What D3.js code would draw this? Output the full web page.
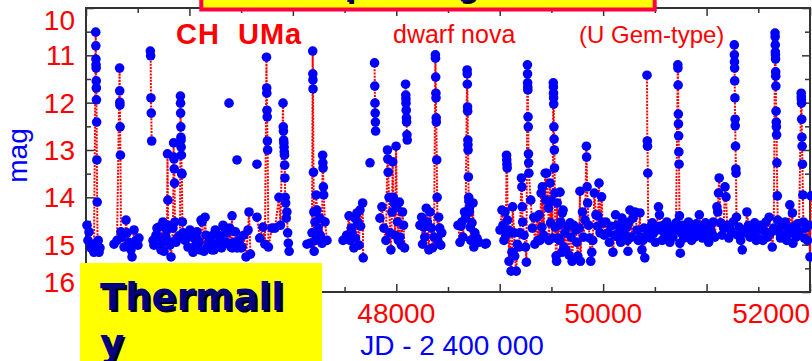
<!DOCTYPE html>
<html>
<head>
<meta charset="utf-8">
<script src="https://cdn.jsdelivr.net/npm/d3@7"></script>
<style>
  html, body { margin: 0; padding: 0; background: #ffffff; }
  svg { display: block; }
</style>
</head>
<body>
<svg id="chart" width="812" height="361"></svg>
<script>
// CH UMa light curve: [JD - 2400000, visual magnitude], one array per observing run.
const seasonA = [[45010,14.59],[45019,14.91],[45029,14.73],[45048,15.07],[45068,14.99],[45077,15.16],
  [45094,10.51],[45095,10.80],[45096,11.08],[45097,11.20],[45098,11.27],[45099,11.54],[45100,11.69],[45101,11.94],[45103,12.41],[45105,13.21],[45108,14.10],
  [45112,15.01],[45118,14.91],[45126,15.16],[45135,15.07]];

const seasonB = [[45271,14.99],[45300,14.91],
  [45325,11.27],[45326,11.75],[45327,11.99],[45328,12.05],[45330,12.51],[45333,13.11],[45338,14.73],
  [45348,14.84],[45368,15.05],[45387,14.48],[45397,14.75],[45416,14.95],[45435,15.11],[45445,15.26],[45454,14.99],[45464,14.69],[45483,14.91],[45502,15.01],[45512,14.86]];

const outburstA = [[45622,10.91],[45625,11.01],[45628,11.90],[45631,12.22],[45635,12.81]];

const seasonC = [[45648,14.91],[45657,15.01],[45677,14.80],[45686,14.65],[45706,14.63],[45715,14.84],[45725,15.11],[45735,14.95],[45744,14.52],[45754,15.14],[45773,14.84],[45783,14.69],
  [45788,13.08],[45792,14.06],[45795,14.59],
  [45812,15.01],[45822,15.26],[45831,14.95],[45841,14.65],
  [45847,12.85],[45849,13.15],[45851,13.19],[45853,13.40],[45856,13.70],[45860,14.52],
  [45870,14.95],[45880,14.86],[45909,14.80],
  [45913,11.86],[45914,12.01],[45915,12.22],[45917,12.51],[45918,12.73],[45919,12.79],[45920,12.94],[45922,13.11],[45925,13.49],[45927,13.51],[45932,14.52],
  [45938,14.75],[45957,14.91],[45967,14.86],[45986,15.05],[46005,14.69],[46025,14.84],[46035,15.16],[46044,14.84],[46060,15.01],[46073,14.73],[46083,14.91],[46093,14.95],[46102,15.11],
  [46112,14.48],[46122,14.52],[46141,15.14],[46151,14.42],[46160,14.80],[46175,15.05],[46189,14.95],[46209,14.91],[46218,15.11],[46228,14.80],[46238,15.11],[46250,14.69],
  [46267,15.01],[46286,14.80],[46296,14.86],[46310,15.07],[46325,14.59],[46335,14.63],[46350,14.95],[46364,14.75],[46373,14.97],[46390,14.65],[46402,15.05],[46412,14.39],
  [46415,15.07],[46431,14.95],[46445,14.73],[46460,15.07],[46480,14.91],[46499,15.07],[46509,15.05],[46525,14.80],[46547,15.26],[46567,14.69],[46576,14.31],[46590,15.20]];

const seasonD = [[46653,14.42],[46680,14.86],[46711,14.63],[46730,14.99],
  [46745,11.04],[46747,11.69],[46748,11.80],[46750,12.16],[46752,12.30],[46754,12.81],[46756,13.00],[46764,15.05],
  [46798,14.65],[46827,14.65],[46866,14.00],[46880,14.59],
  [46905,12.01],[46907,12.51],[46909,12.60],[46911,12.79],[46913,12.85],[46915,12.94],[46917,13.04],[46919,13.11],[46921,13.32],[46923,13.59],
  [46926,14.00],[46930,14.12],[46936,14.44],[46942,14.31],[46950,14.75],[46956,14.97],[46964,15.14]];

const seasonE = [[47137,14.99],[47166,14.97],[47185,14.75],
  [47192,10.91],[47193,11.39],[47194,11.52],[47195,11.71],[47199,13.47],[47203,14.31],
  [47206,15.14],[47214,14.52],[47220,14.91],[47225,13.95],[47233,14.27],[47243,14.65],[47262,14.44],[47265,14.80],[47282,14.97],
  [47288,13.11],[47290,13.27],[47292,13.38],[47295,13.78],[47298,13.95],
  [47311,14.52],[47330,14.91]];

const seasonF = [[47485,14.91],[47520,14.80],[47543,14.39],[47552,14.91],[47565,14.65],[47572,14.75],[47590,15.07],[47600,14.44],[47605,14.86],
  [47620,14.33],[47625,14.52],[47640,15.01],[47649,14.27],[47655,14.61],[47675,14.12],[47680,15.28]];

const outburstB = [[47790,11.16],[47792,11.65],[47794,12.01],[47796,12.22],[47798,12.41],[47800,12.60]];

const seasonG = [[47842,14.44],[47861,14.20],[47880,14.65],[47900,14.91],
  [47915,13.00],[47918,13.19],[47922,13.47],[47930,14.00],[47940,14.75],[47948,15.11],[47958,14.31],
  [47965,13.25],[47970,14.00],[47978,14.12],[47988,14.80],[47998,12.92],[48005,14.20],[48012,14.52],[48020,14.91],
  [48030,14.10],[48036,14.84],[48050,15.01],[48060,14.31],[48070,14.59],[48080,15.07]];

const outburstC = [[48090,11.61],[48092,11.84],[48093,11.92],[48094,12.01],[48096,12.16],[48098,12.32],[48100,12.41],[48103,12.68],[48106,12.79]];

const seasonH = [[48229,14.59],[48245,14.42],[48255,14.99],[48265,14.63],[48275,14.84],[48290,14.23],[48300,14.52],[48315,15.11],[48326,14.31],[48340,14.65],[48350,15.07],[48365,14.84],
  [48378,10.99],[48379,11.06],[48381,11.46],[48383,11.80],[48384,11.90],[48386,12.32],[48387,12.41],[48391,13.21],[48395,14.00],[48400,14.91],
  [48410,14.42],[48420,14.65],[48430,15.01],[48440,14.75]];

const seasonI = [[48597,14.59],[48616,14.95],[48625,14.61],[48635,14.52],[48645,14.84],[48660,14.31],[48670,14.44],
  [48685,11.31],[48686,11.39],[48687,11.61],[48689,12.09],[48690,12.18],[48692,12.79],[48693,12.89],[48694,13.00],[48697,13.57],[48700,14.00],[48702,14.08],[48704,14.23],[48707,14.31],
  [48715,14.63],[48720,14.91],[48732,14.54],[48742,14.12],[48750,15.05],[48760,14.75],[48780,14.86],[48800,14.95],[48860,14.99],[48870,14.97]];

const seasonJ = [[49003,14.69],[49022,14.27],[49032,14.59],[49041,14.91],[49051,14.31],[49060,14.80],
  [49066,13.11],[49068,13.21],[49070,13.30],[49072,13.38],[49076,14.48],
  [49085,14.69],[49090,15.35],[49095,14.75],[49110,15.56],[49118,15.16],[49125,14.20],[49140,14.75],[49145,15.24],[49160,15.56],[49170,14.99],[49185,15.05],[49196,14.75],
  [49210,13.59],[49214,13.78],[49218,14.20],[49222,14.52],[49235,14.80],[49250,15.05],[49258,15.37],
  [49268,11.20],[49269,11.39],[49270,11.58],[49271,11.67],[49272,11.73],[49274,12.30],[49276,12.51],[49278,13.08],[49280,13.27],[49282,13.49],
  [49300,14.06],[49315,14.65],[49330,14.42],[49340,14.99],[49360,14.42],[49370,14.91],[49380,14.37],[49389,14.91],[49400,13.91],[49408,14.63],[49412,13.78],
  [49425,14.80],[49440,13.49],[49445,14.06],[49455,13.49],[49470,14.23],[49475,14.91],[49486,13.70],[49492,14.54],[49500,14.08],[49510,14.86],
  [49518,11.58],[49519,11.67],[49520,11.80],[49521,11.90],[49522,12.03],[49524,12.51],[49526,12.77],[49528,13.00],[49530,13.38],[49533,13.91],[49536,14.63],
  [49545,15.24],[49550,15.35],[49555,14.12],[49560,14.86],[49570,14.59],[49578,14.91]];

const seasonK = [[49583,13.89],[49590,14.52],[49600,15.16],[49605,14.33],[49613,14.27],[49620,15.05],[49630,14.75],[49640,15.11],[49660,14.61],[49670,15.22],
  [49680,14.54],[49690,14.84],[49700,15.35],[49715,14.59],[49735,14.69],[49745,14.95],[49755,15.24],[49770,14.65],[49776,13.87],[49780,15.35],[49800,14.31],[49810,14.84],[49825,14.48],
  [49838,12.92],[49840,13.15],[49845,13.78],[49850,14.12],[49860,14.59],[49870,14.86],[49880,15.35],[49890,15.16],[49900,14.91],[49915,13.91],[49930,14.37],
  [49945,14.61],[49950,14.39],[49960,13.70],[49970,14.75],[49985,13.99],[49995,14.54],[50010,14.80],[50025,14.52],[50046,14.75],[50060,14.95],[50075,14.61],
  [50095,15.16],[50110,14.80],[50120,14.37],[50134,14.59],[50144,14.84],[50160,14.73],[50170,14.95],[50182,14.44],[50200,14.59],[50215,14.80],
  [50230,14.63],[50235,14.91],[50240,15.14],[50250,14.52],[50259,14.27],[50275,14.84],[50290,14.44],[50308,14.31],[50327,14.69],[50340,14.91],
  [50356,14.33],[50360,14.84],[50375,15.11],[50385,14.91],[50395,14.65],[50403,15.28]];

const seasonL = [[50424,11.42],[50427,12.81],[50429,12.92],[50432,13.49],[50436,14.80],
  [50445,14.65],[50460,14.86],[50475,14.54],[50490,14.75],[50505,14.95],[50520,14.61],[50535,14.20],[50545,14.37],[50555,14.69],[50570,14.91],[50585,14.59],
  [50600,14.80],[50615,14.52],[50630,14.73],[50645,14.95],[50660,14.63],[50675,14.84],[50690,14.69],[50705,14.54],
  [50722,11.20],[50723,11.27],[50725,11.63],[50727,12.24],[50728,12.45],[50730,12.70],[50732,13.04],[50734,13.30],[50738,14.39],[50742,14.97],[50746,15.18],
  [50755,14.75],[50765,14.59],[50780,14.86],[50795,14.63],[50810,14.80],[50825,14.52],[50840,14.73],[50855,14.91],[50870,14.65],[50885,14.84],[50900,14.56],
  [50915,14.75],[50930,14.37],[50945,14.61],[50960,14.86],[50975,14.69],[50990,14.54],[51005,14.80],[51020,14.95],[51035,14.65],[51050,14.75],[51065,14.52],[51080,14.84],
  [51100,14.20],[51108,14.31],[51115,13.91],[51122,13.59],[51135,14.54],[51150,14.80],[51165,14.65],[51178,13.78],[51188,13.99],[51200,14.59],[51215,14.86],
  [51230,14.69],[51245,14.75],[51258,14.52]];

const seasonM = [[51268,10.78],[51269,10.99],[51270,11.14],[51271,11.27],[51272,11.54],[51274,11.90],[51276,12.35],[51277,12.49],[51280,12.92],[51283,13.40],[51285,13.49],[51289,14.42],
  [51300,14.80],[51315,14.63],[51330,14.91],[51345,15.11],[51355,14.69],[51380,14.75],[51390,14.31],[51405,14.59],[51420,14.84],[51435,14.65],[51450,14.78],[51465,14.54],
  [51480,14.91],[51495,14.69],[51510,14.88],[51525,14.59],[51545,14.91],[51560,14.71],[51575,14.52],[51590,14.84],[51605,14.42],[51620,14.75],[51635,15.05],[51650,14.65],
  [51662,10.53],[51663,10.61],[51664,10.78],[51665,10.93],[51666,10.99],[51667,11.08],[51668,11.35],[51669,11.44],[51670,11.65],[51672,12.18],[51674,12.41],[51675,12.51],
  [51677,12.68],[51680,13.27],[51684,13.97],[51688,14.48],
  [51700,14.73],[51715,14.86],[51730,14.59],[51745,14.80],[51760,14.52],[51775,14.91],[51790,14.65],[51805,14.16],[51815,14.75],[51830,14.33],[51835,14.97],
  [51850,14.61],[51865,14.84],[51880,14.56],[51893,14.73],
  [51915,11.80],[51916,11.88],[51917,11.94],[51918,12.01],[51920,12.35],[51922,12.73],[51924,12.92],[51927,13.30],[51931,13.95],[51936,14.52],
  [51945,14.86],[51960,14.65],[51975,14.91],[51990,14.59],[52000,15.26],[52010,13.97]];

// single estimates that are not joined to neighbouring points
const singles = [[46383,12.01],[46460,13.21],[46653,13.30],[47746,13.27]];

const xLabelValues = [46000, 48000, 50000, 52000];
const yLabelValues = [10, 11, 12, 13, 14, 15, 16];

const runs = [seasonA, seasonB, outburstA, seasonC, seasonD, seasonE, seasonF, outburstB,
  seasonG, outburstC, seasonH, seasonI, seasonJ, seasonK, seasonL, seasonM];

const svg = d3.select("#chart");
const W = 812, H = 361;
const plot = { left: 86, right: 810, top: 8, bottom: 292 };

const x = d3.scaleLinear().domain([45000, 52000]).range([plot.left, plot.right]);
const y = d3.scaleLinear().domain([10, 16]).range([plot.top, plot.bottom]);

svg.append("rect").attr("width", W).attr("height", H).attr("fill", "#ffffff");

const sansFont = "'Liberation Sans', Arial, Helvetica, sans-serif";
const boldFont = "'DejaVu Sans', Verdana, sans-serif";

// inward ticks on all four sides: long at whole units, short at halves
const majorX = d3.range(45000, 52001, 1000);
const minorX = d3.range(45500, 52000, 1000);
const majorY = d3.range(10, 16.01, 1);
const minorY = d3.range(10.5, 16, 1);

function tickAxis(axisFn, scale, values, size, transform) {
  const g = svg.append("g").attr("transform", transform)
    .call(axisFn(scale).tickValues(values).tickSize(-size).tickFormat(""));
  g.select(".domain").remove();
  g.selectAll(".tick line").attr("stroke", "#333").attr("stroke-width", 1.5);
  return g;
}
tickAxis(d3.axisBottom, x, majorX, 8, `translate(0,${plot.bottom})`);
tickAxis(d3.axisBottom, x, minorX, 5, `translate(0,${plot.bottom})`);
tickAxis(d3.axisTop, x, majorX, 8, `translate(0,${plot.top})`);
tickAxis(d3.axisTop, x, minorX, 5, `translate(0,${plot.top})`);
tickAxis(d3.axisLeft, y, majorY, 8, `translate(${plot.left},0)`);
tickAxis(d3.axisLeft, y, minorY, 5, `translate(${plot.left},0)`);
tickAxis(d3.axisRight, y, majorY, 8, `translate(${plot.right},0)`);
tickAxis(d3.axisRight, y, minorY, 5, `translate(${plot.right},0)`);

svg.append("rect")
  .attr("x", plot.left).attr("y", plot.top)
  .attr("width", plot.right - plot.left).attr("height", plot.bottom - plot.top)
  .attr("fill", "none").attr("stroke", "#333").attr("stroke-width", 2);

// tick labels, kept inside the frame extent at the ends
const xLab = svg.append("g");
xLabelValues.forEach(v => {
  const t = xLab.append("text")
    .attr("x", x(v)).attr("y", 323)
    .attr("text-anchor", "middle")
    .attr("font-family", sansFont).attr("font-size", 28)
    .attr("fill", "#ff0000").text(d3.format("d")(v));
  const w = t.node().getComputedTextLength();
  const cx = Math.min(Math.max(x(v), plot.left + w / 2), plot.right - w / 2);
  t.attr("x", cx);
});
const yLab = svg.append("g");
yLabelValues.forEach(v => {
  const cy = Math.min(Math.max(y(v), 20), 282);
  yLab.append("text")
    .attr("x", 75).attr("y", cy + 10)
    .attr("text-anchor", "end")
    .attr("font-family", sansFont).attr("font-size", 28)
    .attr("fill", "#ff0000").text(v);
});

svg.append("text")
  .attr("transform", "translate(26.5,155.5) rotate(-90)")
  .attr("text-anchor", "middle")
  .attr("font-family", sansFont).attr("font-size", 28)
  .attr("fill", "#0000ff").text("mag");

svg.append("text")
  .attr("x", 452).attr("y", 355)
  .attr("text-anchor", "middle")
  .attr("font-family", sansFont).attr("font-size", 28)
  .attr("fill", "#0000ff").text("JD - 2 400 000");

// star name and type
svg.append("text").attr("x", 176).attr("y", 44)
  .attr("font-family", sansFont).attr("font-size", 29).attr("font-weight", "bold")
  .attr("letter-spacing", 1)
  .attr("fill", "#ff0000").style("white-space", "pre").text("CH  UMa");
svg.append("text").attr("x", 393).attr("y", 43)
  .attr("font-family", sansFont).attr("font-size", 25)
  .attr("fill", "#ff0000").text("dwarf nova");
svg.append("text").attr("x", 579).attr("y", 43)
  .attr("font-family", sansFont).attr("font-size", 24)
  .attr("fill", "#ff0000").text("(U Gem-type)");

// data: dotted connecting lines, then the estimates
const line = d3.line().x(d => x(d[0])).y(d => y(d[1]));
const lineLayer = svg.append("g");
runs.forEach(run => {
  lineLayer.append("path").attr("d", line(run))
    .attr("fill", "none").attr("stroke", "#ff0000")
    .attr("stroke-width", 2).attr("stroke-dasharray", "2,1.2");
});

const allPoints = runs.flat().concat(singles);
svg.append("g").selectAll("circle").data(allPoints).join("circle")
  .attr("cx", d => x(d[0])).attr("cy", d => y(d[1]))
  .attr("r", 4.8).attr("fill", "#0000ff");

// heading banner along the top edge
svg.append("rect")
  .attr("x", 201.3).attr("y", -20).attr("width", 453.4).attr("height", 29.5)
  .attr("fill", "#ffff00").attr("stroke", "#ff0040").attr("stroke-width", 4);
const bannerText = (dx, dy, fill) => svg.append("text")
  .attr("x", 322 + dx).attr("y", -4 + dy)
  .attr("font-family", boldFont).attr("font-weight", "bold").attr("font-size", 27)
  .attr("fill", fill).text("Optical light curve");
bannerText(2, 2, "#000000");
bannerText(0, 0, "#000080");

// note box in the lower left corner
svg.append("rect")
  .attr("x", 80).attr("y", 263).attr("width", 242).attr("height", 100)
  .attr("fill", "#ffff00");
const noteLines = ["Thermall", "y"];
[[2, 2, "#000000"], [0, 0, "#000080"]].forEach(([dx, dy, fill]) => {
  noteLines.forEach((s, i) => {
    svg.append("text")
      .attr("x", 100 + dx).attr("y", 310 + i * 46 + dy)
      .attr("font-family", boldFont).attr("font-weight", "bold").attr("font-size", 37)
      .attr("fill", fill).text(s);
  });
});
</script>
</body>
</html>
